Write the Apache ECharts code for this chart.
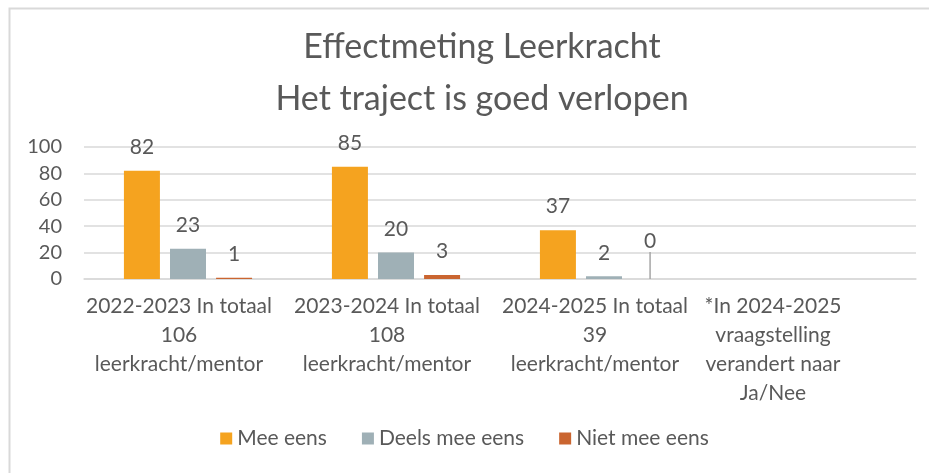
<!DOCTYPE html>
<html>
<head>
<meta charset="utf-8">
<script src="https://cdn.jsdelivr.net/npm/echarts@6/dist/echarts.min.js"></script>
<style>
  html, body { margin: 0; padding: 0; background: #fff; }
  #chart { width: 929px; height: 473px; }
</style>
</head>
<body>
<div id="chart"></div>
<script>
// categorieën (x-as)
const categories = [
    '2022-2023 In totaal\n106\nleerkracht/mentor',
    '2023-2024 In totaal\n108\nleerkracht/mentor',
    '2024-2025 In totaal\n39\nleerkracht/mentor',
    '*In 2024-2025\nvraagstelling\nverandert naar\nJa/Nee'
];
// reeksen
const seriesNames = ['Mee eens', 'Deels mee eens', 'Niet mee eens'];
const meeEens = [82, 85, 37, null];
const deelsMeeEens = [23, 20, 2, null];
const nietMeeEens = [1, 3, 0, null];
// y-as ticks
const yTicks = [0, 20, 40, 60, 80, 100];

const kleuren = ['#F5A31F', '#9FB0B6', '#CA6530'];
const tekst = '#595959';
const font = 'Lato';

const grafiek = function () {
    let myChart = echarts.init(document.getElementById('chart'));

    // label offsets per categorie (Excel zet tekst iets links)
    let xData = categories.map(function (c, i) {
        return {
            value: c,
            textStyle: { padding: [0, i === 3 ? 78 : 18, 0, 0] }
        };
    });

    let mkSeries = function (name, data, idx) {
        return {
            name: name,
            type: 'bar',
            barWidth: 36,
            barGap: '28%',
            itemStyle: { color: kleuren[idx] },
            label: {
                show: true,
                position: 'top',
                distance: 13,
                color: tekst,
                fontFamily: font,
                fontSize: 21
            },
            data: data
        };
    };

    // "0" label is in het origineel iets omhoog geschoven met een lijntje
    let s3 = mkSeries(seriesNames[2], nietMeeEens.map(function (v, i) {
        if (i === 2) {
            return { value: v, labelLine: { show: true, lineStyle: { color: '#A6A6A6', width: 1.5 } } };
        }
        return v;
    }), 2);
    s3.labelLayout = function (p) {
        if (p.dataIndex === 2) return { dy: -14 };
        return {};
    };

    let option = {
        animation: false,
        textStyle: { fontFamily: font, color: tekst },
        title: {
            text: 'Effectmeting Leerkracht\nHet traject is goed verlopen',
            left: 477,
            top: 16,
            textAlign: 'center',
            textStyle: {
                fontFamily: font,
                fontWeight: 'normal',
                fontSize: 34,
                lineHeight: 52,
                color: tekst
            }
        },
        legend: {
            bottom: 19,
            left: 'center',
            itemWidth: 12,
            itemHeight: 12,
            itemGap: 35,
            icon: 'rect',
            textStyle: { fontFamily: font, fontSize: 21, color: tekst },
            data: seriesNames
        },
        grid: { left: 84, right: 13, top: 147, height: 132, containLabel: false },
        xAxis: {
            type: 'category',
            data: xData,
            axisTick: { show: false },
            axisLine: { lineStyle: { color: '#D9D9D9', width: 1.5 } },
            axisLabel: {
                interval: 0,
                margin: 13,
                fontFamily: font,
                fontSize: 21,
                lineHeight: 29,
                color: tekst
            }
        },
        yAxis: {
            type: 'value',
            min: yTicks[0],
            max: yTicks[yTicks.length - 1],
            interval: yTicks[1] - yTicks[0],
            axisLabel: { fontFamily: font, fontSize: 20, color: tekst, margin: 22 },
            splitLine: { lineStyle: { color: '#D9D9D9', width: 1.5 } }
        },
        graphic: [{
            type: 'rect',
            shape: { x: 9.5, y: 8.5, width: 960, height: 500 },
            style: { fill: 'none', stroke: '#D9D9D9', lineWidth: 2 },
            silent: true
        }],
        series: [
            mkSeries(seriesNames[0], meeEens, 0),
            mkSeries(seriesNames[1], deelsMeeEens, 1),
            s3
        ]
    };

    myChart.setOption(option);
};

grafiek();
</script>
</body>
</html>
